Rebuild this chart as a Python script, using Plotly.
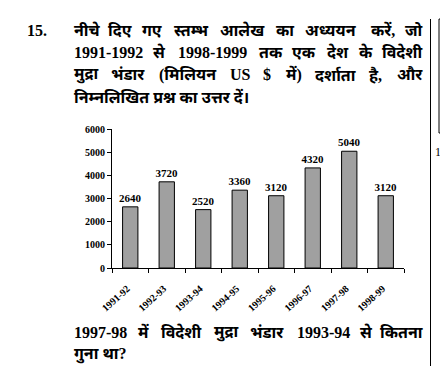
import plotly.graph_objects as go

years = ["1991-92", "1992-93", "1993-94", "1994-95", "1995-96", "1996-97", "1997-98", "1998-99"]
reserves = [2640, 3720, 2520, 3360, 3120, 4320, 5040, 3120]
y_ticks = [0, 1000, 2000, 3000, 4000, 5000, 6000]

q_number = "15."
q_lines = [
    "नीचे दिए गए स्तम्भ आलेख का अध्ययन करें, जो",
    "1991-1992 से 1998-1999 तक एक देश के विदेशी",
    "मुद्रा भंडार (मिलियन US $ में) दर्शाता है, और",
    "निम्नलिखित प्रश्न का उत्तर दें।",
]
bottom_lines = [
    "1997-98 में विदेशी मुद्रा भंडार 1993-94 से कितना",
    "गुना था?",
]

W, H = 440, 366
L, R, T, B = 112, 36, 129, 98
PW, PH = W - L - R, H - T - B


def fx(px):
    return (px - L) / PW


def fy(py):
    return (H - B - py) / PH


SERIF = "Liberation Serif, Times New Roman, serif"
TXT = "Liberation Serif, Noto Sans Devanagari, Lohit Devanagari, serif"
TS = 16

# approximate advance widths (em) used only to spread words for justified lines
LATIN = {"-": 0.333, ",": 0.25, ".": 0.25, "(": 0.333, ")": 0.333, "U": 0.722, "S": 0.556,
         "$": 0.5, "?": 0.5}
DEV = {"क": 0.62, "ख": 0.66, "ग": 0.5, "च": 0.56, "ज": 0.6, "ड": 0.52, "त": 0.5, "थ": 0.58,
       "द": 0.47, "ध": 0.55, "न": 0.55, "प": 0.53, "ब": 0.55, "भ": 0.6, "म": 0.6, "य": 0.56,
       "र": 0.52, "ल": 0.65, "व": 0.55, "श": 0.6, "स": 0.62, "ह": 0.6, "अ": 0.8, "आ": 1.02,
       "ए": 0.47, "औ": 1.0, "उ": 0.5, "ा": 0.25, "ि": 0.25, "ी": 0.25, "ो": 0.25, "ौ": 0.25,
       "।": 0.25, "ें": 0.15}
DEV_SCALE = 1.19


def word_w(w):
    total = 0.0
    for i, c in enumerate(w):
        if c.isdigit():
            total += 0.5
        elif c in LATIN:
            total += LATIN[c]
        elif c == "\u094d":
            prev = w[i - 1] if i > 0 else ""
            nxt = w[i + 1] if i + 1 < len(w) else ""
            if prev == "र" or nxt == "र":
                total -= DEV["र"] * DEV_SCALE
            else:
                total -= 0.2 * DEV_SCALE
        elif c in DEV:
            total += DEV[c] * DEV_SCALE
    if "ें" in w:
        total += DEV["ें"] * DEV_SCALE
    return total * TS


ann = []


def add_text(t, px, py, anchor="left"):
    ann.append(dict(text="<b>%s</b>" % t, x=fx(px), y=fy(py), xanchor=anchor, yanchor="middle",
                    xref="paper", yref="paper", showarrow=False,
                    font=dict(family=TXT, size=TS, color="black")))


def justify(line, py, x0=72, x1=425):
    words = line.split(" ")
    ws = [word_w(w) for w in words]
    gap = (x1 - x0 - sum(ws)) / (len(words) - 1)
    cur = x0
    for i, (w, wd) in enumerate(zip(words, ws)):
        if i == 0:
            add_text(w, x0, py, "left")
        elif i == len(words) - 1:
            add_text(w, x1, py, "right")
        else:
            add_text(w, cur + wd / 2, py, "center")
        cur += wd + gap


add_text(q_number, 25, 30)
for i, t in enumerate(q_lines):
    py = 30 + 22.3 * i
    if i < len(q_lines) - 1:
        justify(t, py)
    else:
        add_text(t, 72, py)
justify(bottom_lines[0], 332)
add_text(bottom_lines[1], 72, 354)
ann.append(dict(text="1", x=fx(433), y=fy(152), xref="paper", yref="paper", xanchor="left", yanchor="middle",
                showarrow=False, font=dict(family=SERIF, size=12, color="black")))

fig = go.Figure()
fig.add_trace(go.Bar(
    x=years, y=reserves, width=0.42,
    marker=dict(color="#a0a0a0", line=dict(color="black", width=1)),
    text=[str(v) for v in reserves], textposition="outside", constraintext="none",
    textfont=dict(family=SERIF, size=11, color="black", weight="bold"),
    cliponaxis=False,
))

shapes = [
    dict(type="line", xref="paper", yref="paper", x0=fx(430.5), x1=fx(430.5), y0=fy(19), y1=fy(366),
         line=dict(color="black", width=1)),
    dict(type="rect", xref="paper", yref="paper", x0=fx(439), x1=fx(460), y0=fy(19), y1=fy(133),
         line=dict(color="black", width=1)),
]

fig.update_layout(
    width=W, height=H, margin=dict(l=L, r=R, t=T, b=B),
    paper_bgcolor="white", plot_bgcolor="white",
    showlegend=False, annotations=ann, shapes=shapes,
    font=dict(family=SERIF, color="black"),
)
fig.update_xaxes(
    type="category", range=[-0.5, 7.5], showline=True, linecolor="black", linewidth=1,
    ticks="outside", tickson="boundaries", ticklen=4, tickcolor="black",
    tickangle=-42, tickfont=dict(family=SERIF, size=10, color="black", weight="bold"),
    ticklabelstandoff=10, ticklabelshift=-3, showgrid=False,
)
fig.update_yaxes(
    range=[0, 6000], tickvals=y_ticks, showline=True, linecolor="black", linewidth=1,
    ticks="outside", ticklen=4, tickcolor="black", showgrid=False, zeroline=False,
    tickfont=dict(family=SERIF, size=10, color="black", weight="bold"),
)

fig.write_html("out.html")
